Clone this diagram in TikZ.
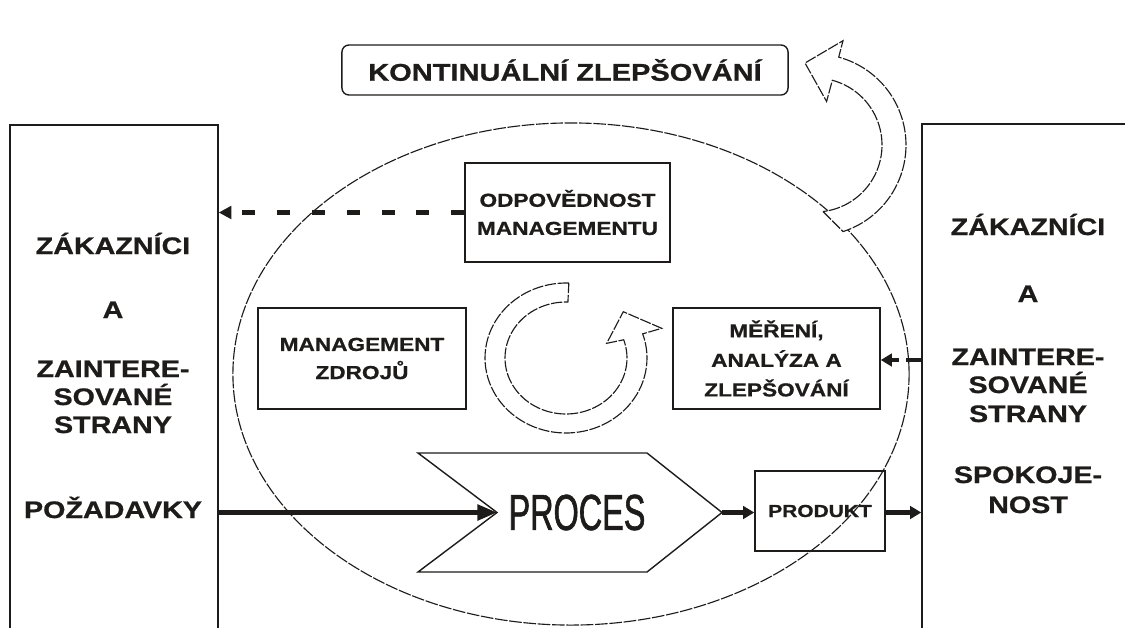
\documentclass[tikz,border=0pt]{standalone}
\usepackage{fontspec}
\setmainfont{Liberation Sans}
\newfontfamily\wideface{Liberation Sans}[FakeStretch=1.2, FakeBold=0.8]
\newfontfamily\narrowface{Liberation Sans}[FakeStretch=0.64, FakeBold=1.2]
\usetikzlibrary{arrows.meta,calc,shapes.geometric}
\definecolor{ink}{HTML}{1E1C1A}

\tikzset{
  frame/.style={draw=ink, line width=1pt, inner sep=0pt},
  sidebox/.style={frame},
  sidetxt/.style={font={\wideface\bfseries\fontsize{17}{21}\selectfont}, text=ink, anchor=base, inner sep=0pt},
  boxtxt/.style={frame, font={\wideface\bfseries\fontsize{13.4}{20}\selectfont}, text=ink, align=center},
  outline/.style={draw=ink, line width=0.8pt, dash pattern=on 9pt off 1.2pt},
  hollow/.style={draw=ink, fill=white, line width=0.8pt, dash pattern=on 8pt off 1.2pt, line join=miter},
  bigflow/.style={draw=ink, line width=3pt, -{Triangle[length=14pt,width=11pt]}},
  smallflow/.style={draw=ink, line width=3pt, -{Triangle[length=8pt,width=9pt]}},
  dashflow/.style={draw=ink, line width=3pt, dash pattern=on 9.2pt off 15.6pt, -{Triangle[length=9pt,width=9pt]}},
}

\begin{document}
\begin{tikzpicture}[x=0.025cm, y=-0.025cm]
  \clip (0,0) rectangle (1125,627);
  \fill[white] (0,0) rectangle (1125,627);

  % outer cycle of the quality management system
  \node[outline, ellipse, minimum width=16.9cm, minimum height=12.55cm, inner sep=0pt] (cyc) at (571,374) {};

  % customers and interested parties, left and right
  \node[sidebox, minimum width=5.2cm, minimum height=13.5cm] (L) at (114,395) {};
  \node[sidebox, minimum width=5.95cm, minimum height=13.525cm] (R) at (1041,394.5) {};

  \node[sidetxt] (lz) at (113,254) {ZÁKAZNÍCI};
  \node[sidetxt] (la) at (113,318) {A};
  \node[sidetxt] (li1) at (113,377) {ZAINTERE-};
  \node[sidetxt] (li2) at (113,405) {SOVANÉ};
  \node[sidetxt] (li3) at (113,433) {STRANY};
  \node[sidetxt] (lp) at (113,518) {POŽADAVKY};

  \node[sidetxt] (rz) at (1028,235) {ZÁKAZNÍCI};
  \node[sidetxt] (ra) at (1028,302) {A};
  \node[sidetxt] (ri1) at (1028,365) {ZAINTERE-};
  \node[sidetxt] (ri2) at (1028,393) {SOVANÉ};
  \node[sidetxt] (ri3) at (1028,422) {STRANY};
  \node[sidetxt] (rs1) at (1028,483) {SPOKOJE-};
  \node[sidetxt] (rs2) at (1028,513) {NOST};

  % continual improvement
  \node[frame, rounded corners=5pt, minimum width=11.15cm, minimum height=1.25cm,
        font={\wideface\bfseries\fontsize{17.2}{20}\selectfont}, text=ink] (kz) at (565,70) {KONTINUÁLNÍ ZLEPŠOVÁNÍ};

  % the four process blocks
  \node[boxtxt, minimum width=5.125cm, minimum height=2.475cm] (odp) at (567.5,212.5) {ODPOVĚDNOST\\MANAGEMENTU};
  \node[boxtxt, minimum width=5.2cm, minimum height=2.525cm] (zdr) at (362,358.5) {MANAGEMENT\\ZDROJŮ};
  \node[boxtxt, minimum width=5.175cm, minimum height=2.525cm, font={\wideface\bfseries\fontsize{13.4}{21}\selectfont}] (mer) at (776.5,358.5) {MĚŘENÍ,\\ANALÝZA A\\ZLEPŠOVÁNÍ};
  \node[boxtxt, minimum width=3.25cm, minimum height=2cm, font={\wideface\bfseries\fontsize{12.4}{14}\selectfont}] (prod) at (820,511) {PRODUKT};

  % realisation process chevron
  \coordinate (pTL) at (418,453);
  \coordinate (pTR) at (647,453);
  \coordinate (pTip) at (722,512.5);
  \coordinate (pBR) at (647,572);
  \coordinate (pBL) at (418,572);
  \coordinate (pNotch) at (497,512.5);
  \draw[ink, line width=1pt, line join=miter] (pTL) -- (pTR) -- (pTip) -- (pBR) -- (pBL) -- (pNotch) -- cycle;
  \node[font={\narrowface\fontsize{36}{40}\selectfont}, text=ink, inner sep=0pt] (proc) at (577,512.5) {PROCES};

  % flows
  \draw[bigflow] (L.east |- pNotch) -- (pNotch);
  \draw[smallflow] (pTip) -- (prod.west |- pTip);
  \draw[smallflow] (prod.east |- pTip) -- (R.west |- pTip);
  \draw[dashflow] (odp.west) -- (L.east |- odp.west);
  \draw[ink, line width=3pt, dash pattern=on 11pt off 5pt, -{Triangle[length=8pt,width=9pt]}] (R.west |- 0,360) -- (mer.east |- 0,360);

  % inner improvement loop
  \draw[hollow]
    plot[domain=0:1, samples=80, variable=\s] ({566+81*cos(-88-291*\s)},{358+75*sin(-88-291*\s)})
    -- (661.7,328.3) -- (623.3,311.7) -- (606.7,343.3)
    -- plot[domain=0:1, samples=80, variable=\s] ({566+61*cos(-379+291*\s)},{358+56*sin(-379+291*\s)})
    -- cycle;

  % outer improvement loop leading to continual improvement
  \draw[hollow]
    (823,211.5) -- (843,231.5)
    -- plot[domain=0:1, samples=60, variable=\s] ({815+91*cos(72-147*\s)},{145+91*sin(72-147*\s)})
    -- (843,40.7) -- (805,63) -- (826.6,101.5)
    -- plot[domain=0:1, samples=60, variable=\s] ({815+67*cos(-75+158*\s)},{145+67*sin(-75+158*\s)})
    -- cycle;
\end{tikzpicture}
\end{document}
